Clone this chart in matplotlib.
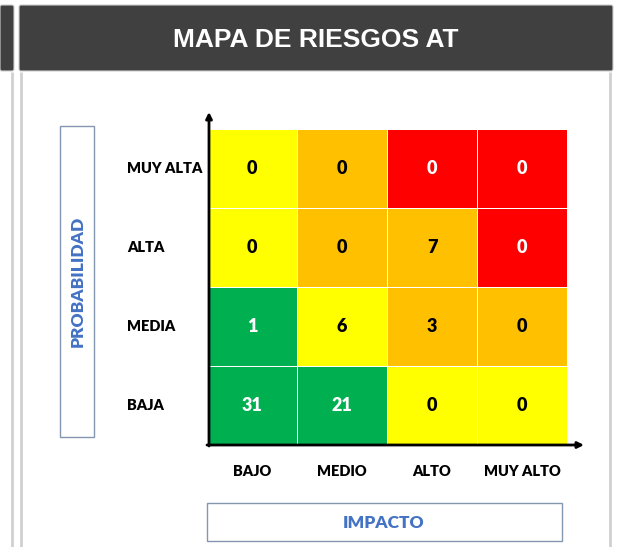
import matplotlib.pyplot as plt
import numpy as np
from matplotlib.colors import ListedColormap
from matplotlib.patches import FancyBboxPatch, Rectangle

# Données de la matrice (lignes du haut vers le bas)
probabilidad = ['MUY ALTA', 'ALTA', 'MEDIA', 'BAJA']
impacto = ['BAJO', 'MEDIO', 'ALTO', 'MUY ALTO']
conteos = [[0, 0, 0, 0],
           [0, 0, 7, 0],
           [1, 6, 3, 0],
           [31, 21, 0, 0]]
# niveau de risque : 0 vert, 1 jaune, 2 orange, 3 rouge
niveles = [[1, 2, 3, 3],
           [1, 2, 2, 3],
           [0, 1, 2, 2],
           [0, 0, 1, 1]]
colores = ['#00B050', '#FFFF00', '#FFC000', '#FF0000']
color_texto = ['white', 'black', 'black', 'white']

titulo = 'MAPA DE RIESGOS AT'
W, H = 618, 547
azul = '#4472C4'
fuente = ['Lato', 'DejaVu Sans']
peso = 'heavy'

fig = plt.figure(figsize=(W / 100, H / 100), dpi=100)

# fond en pixels
bg = fig.add_axes([0, 0, 1, 1])
bg.set_xlim(0, W)
bg.set_ylim(H, 0)
bg.axis('off')

# bandeau du titre
bg.add_patch(FancyBboxPatch((0, 5), 14, 66, boxstyle='round,pad=0,rounding_size=2',
                            fc='#404040', ec='#cfcfcf', lw=0.8))
bg.add_patch(FancyBboxPatch((19, 5), 594, 66, boxstyle='round,pad=0,rounding_size=2',
                            fc='#404040', ec='#cfcfcf', lw=0.8))
bg.text(316, 40, titulo, color='white', fontsize=19, fontweight='bold',
        family='Liberation Sans', ha='center', va='center')

# bordures du panneau
for x in [12, 21, 610]:
    bg.plot([x, x], [72, H], color='#d0d0d0', lw=2, solid_capstyle='butt')

# cadres des titres d'axes
bg.add_patch(Rectangle((60, 126), 34, 311, fc='white', ec='#8497B0', lw=1))
bg.text(78, 281, 'PROBABILIDAD', rotation=90, color=azul, fontsize=12.5,
        fontweight=peso, family=fuente, ha='center', va='center')
bg.add_patch(Rectangle((207, 503), 355, 38, fc='white', ec='#8497B0', lw=1))
bg.text(384, 523, 'IMPACTO', color=azul, fontsize=12.5,
        fontweight=peso, family=fuente, ha='center', va='center')

# matrice
gx0, gy0, gx1, gy1 = 207, 129, 567, 445
ax = fig.add_axes([gx0 / W, 1 - gy1 / H, (gx1 - gx0) / W, (gy1 - gy0) / H])
n_f, n_c = len(probabilidad), len(impacto)
ax.pcolormesh(np.array(niveles), cmap=ListedColormap(colores), vmin=-0.5, vmax=3.5,
              edgecolors='white', linewidth=0.7)
ax.set_xlim(0, n_c)
ax.set_ylim(n_f, 0)
ax.axis('off')

for i in range(n_f):
    for j in range(n_c):
        ax.text(j + 0.5, i + 0.5, str(conteos[i][j]), ha='center', va='center',
                fontsize=13, fontweight=peso, family=fuente,
                color=color_texto[niveles[i][j]])

# étiquettes des lignes et colonnes
for i, lab in enumerate(probabilidad):
    ax.text(-80 / (gx1 - gx0) * n_c, i + 0.5, lab, ha='left', va='center',
            fontsize=10.5, fontweight=peso, family=fuente, clip_on=False)
for j, lab in enumerate(impacto):
    ax.text(j + 0.5, n_f + 27 / (gy1 - gy0) * n_f, lab, ha='center', va='center',
            fontsize=10.5, fontweight=peso, family=fuente, clip_on=False)

# flèches des axes, au-dessus de la matrice
top = fig.add_axes([0, 0, 1, 1], zorder=2)
top.set_xlim(0, W)
top.set_ylim(H, 0)
top.axis('off')
flecha = dict(arrowstyle='-|>', color='black', lw=2, mutation_scale=9,
              shrinkA=0, shrinkB=0)
top.annotate('', xy=(209, 112), xytext=(209, 446), arrowprops=flecha)
top.annotate('', xy=(584, 445), xytext=(207, 445), arrowprops=flecha)

fig.savefig('out.png', dpi=100)
